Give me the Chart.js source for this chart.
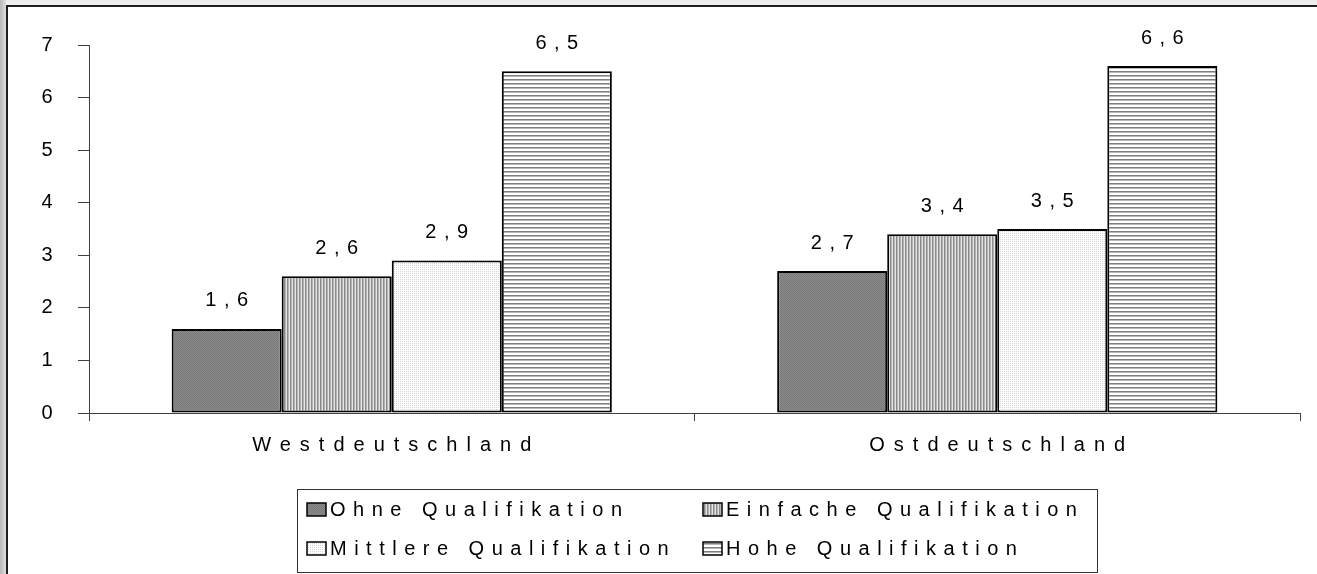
<!DOCTYPE html>
<html>
<head>
<meta charset="utf-8">
<script src="https://cdn.jsdelivr.net/npm/chart.js@4.4.1/dist/chart.umd.min.js"></script>
<style>
  html, body { margin: 0; padding: 0; width: 1317px; height: 574px; overflow: hidden; background: #ececec; }
  #lstrip { position: absolute; left: 0; top: 0; width: 6px; height: 574px; background: linear-gradient(to right, #b8b8b8, #dedede); }
  #wrap { position: absolute; left: 6px; top: 5px; width: 1311px; height: 569px; box-sizing: border-box;
          border-left: 2px solid #1e1e1e; border-top: 2px solid #1e1e1e; background: #fff; }
  canvas { display: block; }
</style>
</head>
<body>
<div id="lstrip"></div>
<div id="wrap"><canvas id="c" width="1309" height="567"></canvas></div>
<script>
// ---- data ----
const categories = ['Westdeutschland', 'Ostdeutschland'];
const seriesNames = ['Ohne Qualifikation', 'Einfache Qualifikation', 'Mittlere Qualifikation', 'Hohe Qualifikation'];
const ohneQualifikation = [1.6, 2.7];
const einfacheQualifikation = [2.6, 3.4];
const mittlereQualifikation = [2.9, 3.5];
const hoheQualifikation = [6.5, 6.6];
const yTicks = [0, 1, 2, 3, 4, 5, 6, 7];

const FONT = '"Liberation Sans", Arial, sans-serif';
const FS = 20;
const LSN = 7.5;       // legend / value labels spacing
const LS = LSN + 'px';
const AXN = 9;         // axis label spacing
const AXS = AXN + 'px';

// ---- patterns ----
function makePattern(w, h, paint) {
  const c = document.createElement('canvas');
  c.width = w; c.height = h;
  const g = c.getContext('2d');
  paint(g);
  return document.getElementById('c').getContext('2d').createPattern(c, 'repeat');
}
const patOhne = makePattern(2, 2, g => {
  g.fillStyle = '#7a7a7a'; g.fillRect(0, 0, 2, 2);
  g.fillStyle = '#8a8a8a'; g.fillRect(0, 0, 1, 1); g.fillRect(1, 1, 1, 1);
});
const patEinfache = makePattern(3, 1, g => {
  g.fillStyle = '#8a8a8a'; g.fillRect(0, 0, 1, 1);
  g.fillStyle = '#b4b4b4'; g.fillRect(1, 0, 1, 1);
  g.fillStyle = '#e6e6e6'; g.fillRect(2, 0, 1, 1);
});
const patMittlere = makePattern(2, 2, g => {
  g.fillStyle = '#ffffff'; g.fillRect(0, 0, 2, 2);
  g.fillStyle = '#d6d6d6'; g.fillRect(0, 0, 1, 1);
});
const patHohe = makePattern(1, 4, g => {
  g.fillStyle = '#ffffff'; g.fillRect(0, 0, 1, 4);
  g.fillStyle = '#7e7e7e'; g.fillRect(0, 0, 1, 1);
  g.fillStyle = '#b8b8b8'; g.fillRect(0, 1, 1, 1);
});
const patterns = [patOhne, patEinfache, patMittlere, patHohe];
const seriesValues = [ohneQualifikation, einfacheQualifikation, mittlereQualifikation, hoheQualifikation];

// ---- plugins ----
const spacingPlugin = {
  id: 'spacing',
  beforeUpdate(chart) { chart.ctx.letterSpacing = AXS; },
  beforeDraw(chart) { chart.ctx.letterSpacing = AXS; }
};

const valueLabels = {
  id: 'valueLabels',
  afterDatasetsDraw(chart) {
    const ctx = chart.ctx;
    ctx.save();
    ctx.letterSpacing = LS;
    ctx.font = FS + 'px ' + FONT;
    ctx.fillStyle = '#000';
    ctx.textAlign = 'center';
    ctx.textBaseline = 'middle';
    chart.data.datasets.forEach((ds, i) => {
      const meta = chart.getDatasetMeta(i);
      meta.data.forEach((bar, j) => {
        const txt = String(ds.data[j]).replace('.', ',');
        ctx.fillText(txt, bar.x + LSN / 2, bar.y - 28);
      });
    });
    ctx.restore();
  }
};

const boxLegend = {
  id: 'boxLegend',
  afterDraw(chart) {
    const ctx = chart.ctx;
    ctx.save();
    ctx.letterSpacing = LS;
    ctx.strokeStyle = '#333';
    ctx.lineWidth = 1;
    ctx.strokeRect(289.5, 482.5, 800, 83);
    const cols = [299, 695];
    const rows = [502, 541];
    ctx.font = FS + 'px ' + FONT;
    ctx.textBaseline = 'middle';
    ctx.textAlign = 'left';
    chart.data.datasets.forEach((ds, i) => {
      const x = cols[i % 2], y = rows[Math.floor(i / 2)];
      ctx.fillStyle = ds.backgroundColor;
      ctx.fillRect(x, y - 6, 19, 13);
      ctx.strokeStyle = '#000';
      ctx.lineWidth = 1.5;
      ctx.strokeRect(x, y - 6, 19, 13);
      ctx.fillStyle = '#000';
      ctx.fillText(ds.label, x + 23, y + 1);
    });
    ctx.restore();
  }
};

// ---- chart ----
new Chart(document.getElementById('c'), {
  type: 'bar',
  data: {
    labels: categories,
    datasets: seriesNames.map((name, i) => ({
      label: name,
      data: seriesValues[i],
      backgroundColor: patterns[i],
      borderColor: '#000',
      borderWidth: 2,
      borderSkipped: false,
      barPercentage: 1,
      categoryPercentage: 0.727
    }))
  },
  options: {
    responsive: false,
    animation: false,
    events: [],
    layout: { padding: { left: 0, right: 17, top: 38, bottom: 111 } },
    plugins: { legend: { display: false }, tooltip: { enabled: false } },
    scales: {
      x: {
        type: 'category',
        offset: true,
        grid: { display: true, drawOnChartArea: false, drawTicks: true, tickLength: 8, offset: true, color: '#404040', lineWidth: 1 },
        border: { display: true, color: '#404040', width: 1 },
        ticks: { color: '#000', font: { family: FONT, size: FS }, padding: 12, labelOffset: AXN / 2, maxRotation: 0 },
        afterFit(s) { s.height = 50; }
      },
      y: {
        min: 0, max: 7,
        afterBuildTicks(s) { s.ticks = yTicks.map(v => ({ value: v })); },
        grid: { display: true, drawOnChartArea: false, drawTicks: true, tickLength: 11, color: '#404040', lineWidth: 1 },
        border: { display: true, color: '#404040', width: 1 },
        ticks: { color: '#000', font: { family: FONT, size: FS }, padding: 16.5 },
        afterFit(s) { s.width = 81; }
      }
    }
  },
  plugins: [spacingPlugin, valueLabels, boxLegend]
});
</script>
</body>
</html>
